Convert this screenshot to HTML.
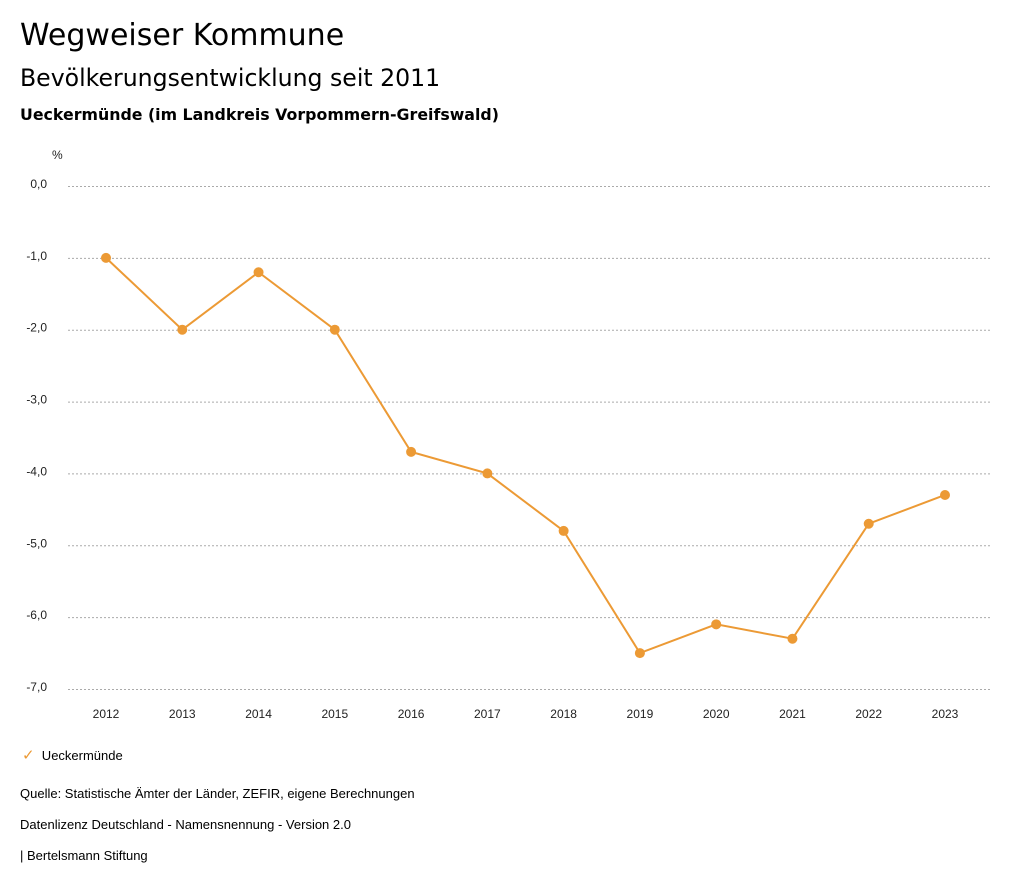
<!DOCTYPE html>
<html><head><meta charset="utf-8"><style>
body{margin:0;width:1024px;height:888px;background:#fff;font-family:"Liberation Sans","DejaVu Sans",sans-serif;color:#000;position:relative;overflow:hidden}
.t{position:absolute;left:20px;white-space:nowrap}
.h{font-family:"DejaVu Sans","Liberation Sans",sans-serif}
</style></head><body>
<div class="t h" style="top:18px;font-size:30px">Wegweiser Kommune</div>
<div class="t h" style="top:64px;font-size:23.6px">Bevölkerungsentwicklung seit 2011</div>
<div class="t h" style="top:105px;font-size:15.8px;font-weight:bold">Ueckermünde (im Landkreis Vorpommern-Greifswald)</div>
<svg id="chart" width="1024" height="740" style="position:absolute;left:0;top:0" font-family="Liberation Sans, DejaVu Sans, sans-serif"></svg>
<div class="t" style="top:746px;left:22px;font-size:13px"><span style="color:#ec9a35;font-size:15px">✓</span>&nbsp;&nbsp;Ueckermünde</div>
<div class="t" style="top:786px;font-size:13px">Quelle: Statistische Ämter der Länder, ZEFIR, eigene Berechnungen</div>
<div class="t" style="top:817px;font-size:13px">Datenlizenz Deutschland - Namensnennung - Version 2.0</div>
<div class="t" style="top:848px;font-size:13px">| Bertelsmann Stiftung</div>
<script>
const years=[2012,2013,2014,2015,2016,2017,2018,2019,2020,2021,2022,2023];
const values=[-1.0,-2.0,-1.2,-2.0,-3.7,-4.0,-4.8,-6.5,-6.1,-6.3,-4.7,-4.3];
const yTicks=[0,-1,-2,-3,-4,-5,-6,-7];
const svg=document.getElementById('chart');
const NS='http://www.w3.org/2000/svg';
function y(v){return 186+(0-v)/7*503;}
function x(i){return 106+i*(945-106)/(years.length-1);}
function mk(t,a){const e=document.createElementNS(NS,t);for(const k in a)e.setAttribute(k,a[k]);svg.appendChild(e);return e;}
const u=mk('text',{x:52,y:159,'font-size':12,fill:'#222'});u.textContent='%';


yTicks.forEach(v=>{
 const l=mk('line',{x1:68,x2:990,y1:y(v)+0.5,y2:y(v)+0.5,stroke:'#aaa','stroke-dasharray':'2,2'});
 
 
 const t=mk('text',{x:47,y:y(v)+2,'text-anchor':'end','font-size':12,fill:'#222'});
 t.textContent=v.toFixed(1).replace('.',',');
 
 
});
years.forEach((yr,i)=>{
 const t=mk('text',{x:x(i),y:718,'text-anchor':'middle','font-size':12,fill:'#222'});
 t.textContent=yr;
 
 
});
const p=mk('polyline',{points:values.map((v,i)=>x(i)+','+y(v)).join(' '),fill:'none',stroke:'#ec9a35','stroke-width':2});


values.forEach((v,i)=>{
 const c=mk('circle',{cx:x(i),cy:y(v),r:5,fill:'#ec9a35'});
 
 
});
</script>
</body></html>
